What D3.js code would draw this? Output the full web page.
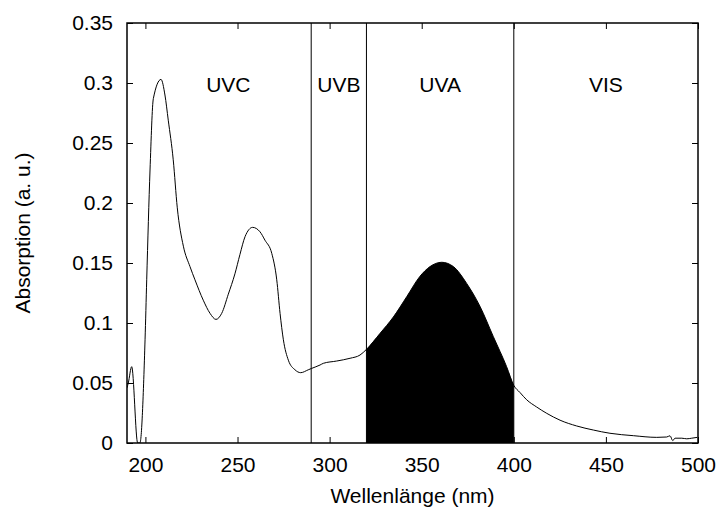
<!DOCTYPE html>
<html>
<head>
<meta charset="utf-8">
<script src="https://cdn.jsdelivr.net/npm/d3@7"></script>
<style>
  html, body { margin: 0; padding: 0; background: #fff; }
  svg text { font-family: "Liberation Sans", Arial, Helvetica, sans-serif; fill: #000; }
</style>
</head>
<body>
<svg id="chart" width="724" height="513"></svg>
<script>
// Absorption spectrum: wavelength (nm) and absorption (a. u.)
const wavelength = [
  190.0, 190.7, 192.55, 195.8, 197.0, 199.8, 200.7, 202.5, 204.3, 208.46,
  210.6, 212.4, 215.1, 217.3, 220.6, 224.2, 226.9, 231.4, 235.1, 238.3,
  241.4, 245.0, 248.6, 251.3, 254.1, 258.2, 262.2, 264.9, 268.6, 271.3,
  273.1, 274.9, 277.6, 281.2, 284.3, 288.4, 290.3, 294.8, 296.6, 303.8,
  311.1, 316.5, 320.0, 327.4, 334.6, 341.9, 349.1, 354.5, 360.9, 367.2,
  374.4, 381.6, 388.9, 396.1, 400.0, 403.4, 407.0, 412.4, 417.9, 425.1,
  434.1, 443.2, 452.2, 464.9, 477.6, 483.0, 484.8, 486.3, 487.5, 491.2,
  493.9, 496.6, 499.6
];
const absorption = [
  0.046, 0.050, 0.0636, 0.0, 0.0, 0.086, 0.136, 0.2275, 0.287, 0.303,
  0.290, 0.269, 0.236, 0.196, 0.164, 0.147, 0.136, 0.119, 0.108, 0.103,
  0.108, 0.124, 0.141, 0.157, 0.172, 0.1797, 0.176, 0.169, 0.158, 0.136,
  0.108, 0.086, 0.069, 0.061, 0.0586, 0.061, 0.0622, 0.065, 0.0664, 0.0683,
  0.0706, 0.0733, 0.078, 0.0914, 0.105, 0.122, 0.139, 0.147, 0.1506, 0.147,
  0.133, 0.114, 0.0886, 0.0636, 0.048, 0.042, 0.036, 0.030, 0.0247, 0.019,
  0.0142, 0.0108, 0.0081, 0.0061, 0.0047, 0.005, 0.006, 0.002, 0.004, 0.004,
  0.0035, 0.004, 0.0047
];

// Spectral band boundaries and labels
const bandEdges = [290, 320, 400];
const bandNames = ["UVC", "UVB", "UVA", "VIS"];
const bandLabelAt = [245, 305, 360, 450];
const shadedBand = [320, 400];

const xTicks = [200, 250, 300, 350, 400, 450, 500];
const yTicks = [0, 0.05, 0.1, 0.15, 0.2, 0.25, 0.3, 0.35];
const xDomain = [190, 500];
const yDomain = [0, 0.35];

const FONT = 21;
const margin = { left: 127, right: 26, top: 23, bottom: 70 };
const W = 724, H = 513;
const plotW = W - margin.left - margin.right;
const plotH = H - margin.top - margin.bottom;

const svg = d3.select("#chart");
const g = svg.append("g").attr("transform", `translate(${margin.left},${margin.top})`);

const x = d3.scaleLinear().domain(xDomain).range([0, plotW]);
const y = d3.scaleLinear().domain(yDomain).range([plotH, 0]);

const data = wavelength.map((w, i) => ({ w, a: absorption[i] }));

svg.append("defs").append("clipPath").attr("id", "plotClip")
  .append("rect").attr("width", plotW).attr("height", plotH);

// Shaded UVA area under the curve
const shaded = data.filter(d => d.w >= shadedBand[0] && d.w <= shadedBand[1]);
g.append("path")
  .datum(shaded)
  .attr("clip-path", "url(#plotClip)")
  .attr("fill", "#000")
  .attr("d", d3.area().x(d => x(d.w)).y0(y(0)).y1(d => y(d.a)).curve(d3.curveMonotoneX));

// Spectrum curve
g.append("path")
  .datum(data)
  .attr("clip-path", "url(#plotClip)")
  .attr("fill", "none")
  .attr("stroke", "#000")
  .attr("stroke-width", 1)
  .attr("d", d3.line().x(d => x(d.w)).y(d => y(d.a)).curve(d3.curveMonotoneX));

// Band boundaries
g.selectAll("line.band").data(bandEdges).join("line")
  .attr("class", "band")
  .attr("x1", d => x(d)).attr("x2", d => x(d))
  .attr("y1", 0).attr("y2", plotH)
  .attr("stroke", "#000").attr("stroke-width", 1);

// Band labels
g.selectAll("text.bandLabel").data(bandNames).join("text")
  .attr("class", "bandLabel")
  .attr("x", (d, i) => x(bandLabelAt[i]))
  .attr("y", 69)
  .attr("text-anchor", "middle")
  .attr("font-size", FONT)
  .text(d => d);

// Axes with inward ticks, mirrored on top and right
const tick = 6;
const axisStyle = sel => {
  sel.select(".domain").remove();
  sel.selectAll(".tick line").attr("stroke", "#000").attr("stroke-width", 1);
};
g.append("g").attr("transform", `translate(0,${plotH})`)
  .call(d3.axisBottom(x).tickValues(xTicks).tickSizeInner(-tick).tickSizeOuter(0).tickPadding(14).tickFormat(d3.format("d")))
  .call(axisStyle)
  .call(s => s.selectAll("text").attr("font-size", FONT).attr("font-family", "Liberation Sans, Arial, sans-serif"));
g.append("g")
  .call(d3.axisTop(x).tickValues(xTicks).tickSizeInner(-tick).tickSizeOuter(0).tickFormat(""))
  .call(axisStyle);
g.append("g")
  .call(d3.axisLeft(y).tickValues(yTicks).tickSizeInner(-tick).tickSizeOuter(0).tickPadding(14).tickFormat(d => d3.format("")(+d.toFixed(2))))
  .call(axisStyle)
  .call(s => s.selectAll("text").attr("font-size", FONT).attr("font-family", "Liberation Sans, Arial, sans-serif"));
g.append("g").attr("transform", `translate(${plotW},0)`)
  .call(d3.axisRight(y).tickValues(yTicks).tickSizeInner(-tick).tickSizeOuter(0).tickFormat(""))
  .call(axisStyle);

// Frame
g.append("rect")
  .attr("width", plotW).attr("height", plotH)
  .attr("fill", "none").attr("stroke", "#000").attr("stroke-width", 1.5);

// Axis titles
svg.append("text")
  .attr("x", margin.left + plotW / 2)
  .attr("y", 503)
  .attr("text-anchor", "middle")
  .attr("font-size", FONT)
  .text("Wellenlänge (nm)");
svg.append("text")
  .attr("transform", `translate(30,${margin.top + plotH / 2}) rotate(-90)`)
  .attr("text-anchor", "middle")
  .attr("font-size", FONT)
  .text("Absorption (a. u.)");
</script>
</body>
</html>
